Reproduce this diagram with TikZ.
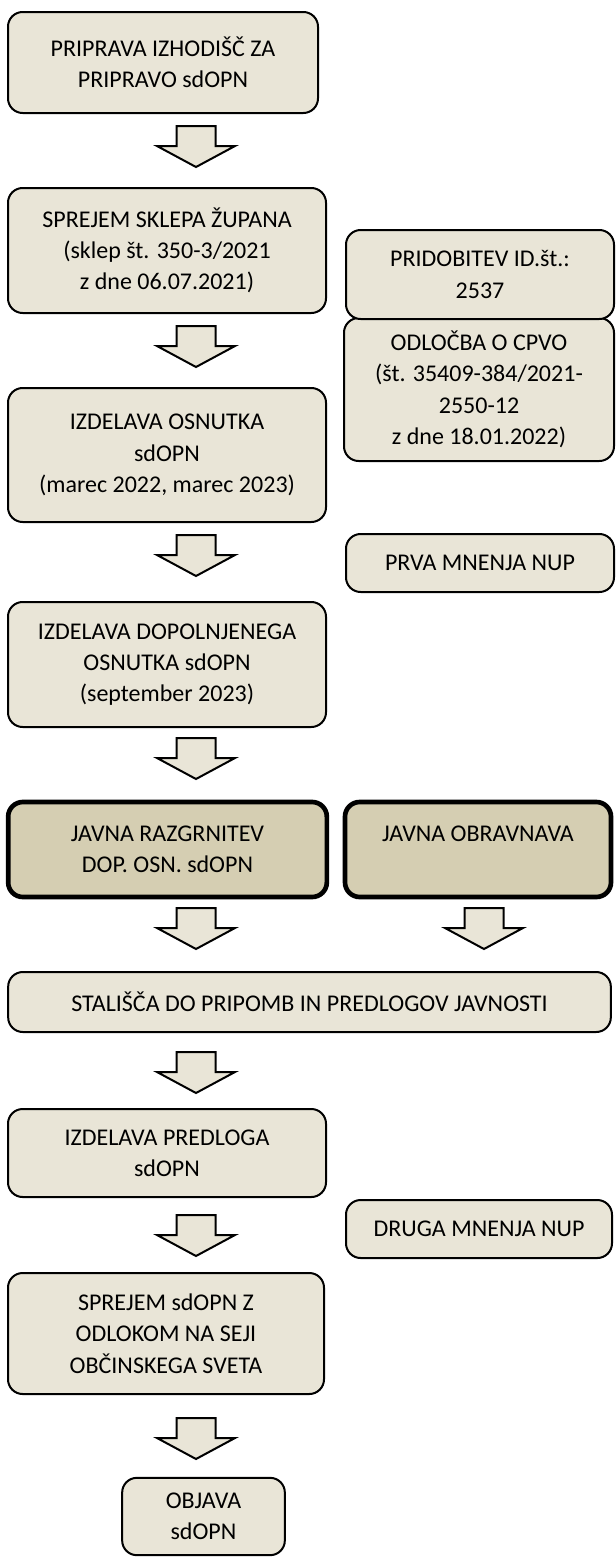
\documentclass[tikz,border=0pt]{standalone}
\usepackage{fontspec}
\setmainfont{Carlito}

\definecolor{boxfill}{RGB}{233,229,215}
\definecolor{javnafill}{RGB}{213,206,178}

\tikzset{
  korak/.style={draw=black, line width=1.5pt, fill=boxfill, rounded corners=11pt,
    align=center, inner sep=0pt, font=\fontsize{18}{23.5}\selectfont},
  javno/.style={korak, fill=javnafill, line width=3.5pt},
  puscica/.style={draw=black, line width=1.5pt, fill=boxfill, line join=miter},
}

% block arrow, top of the shaft at #1
\newcommand{\blokpuscica}[1]{%
  \draw [puscica, shift={#1}] (-19.5,0) -- (19.5,0) -- (19.5,20) -- (39,20) -- (0,41) -- (-39,20) -- (-19.5,20) -- cycle ;}

\begin{document}
\begin{tikzpicture}[x=0.75pt,y=0.75pt,yscale=-1,xscale=1]
\useasboundingbox (0,0) rectangle (616,1560);

%Shape: Rounded Rect [id:b1]
\node [korak, minimum width=232.5pt, minimum height=75.75pt] (izhodisca) at (163,62.5) {PRIPRAVA IZHODIŠČ ZA\\PRIPRAVO sdOPN};
%Block Arrow
\blokpuscica{(196,126)}
%Shape: Rounded Rect [id:b2]
\node [korak, minimum width=238.5pt, minimum height=93.75pt] (sklep) at (167,250.5) {SPREJEM SKLEPA ŽUPANA\\(sklep št. 350-3/2021\\z dne 06.07.2021)};
%Shape: Rounded Rect [id:b4]
\node [korak, minimum width=202.5pt, minimum height=107.25pt] (cpvo) at (479,389.5) {ODLOČBA O CPVO\\(št. 35409-384/2021-\\2550-12\\z dne 18.01.2022)};
%Shape: Rounded Rect [id:b3]
\node [korak, minimum width=201pt, minimum height=66.75pt] (idst) at (480,274.5) {PRIDOBITEV ID.št.:\\2537};
%Block Arrow
\blokpuscica{(196,326)}
%Shape: Rounded Rect [id:b5]
\node [korak, minimum width=238.5pt, minimum height=100.5pt] (osnutek) at (167,455) {IZDELAVA OSNUTKA\\sdOPN\\(marec 2022, marec 2023)};
%Block Arrow
\blokpuscica{(196,535)}
%Shape: Rounded Rect [id:b6]
\node [korak, minimum width=201pt, minimum height=43.5pt] (prvamnenja) at (480,563) {PRVA MNENJA NUP};
%Shape: Rounded Rect [id:b7]
\node [korak, minimum width=238.5pt, minimum height=93.75pt] (dopolnjeni) at (167,664.5) {IZDELAVA DOPOLNJENEGA\\OSNUTKA sdOPN\\(september 2023)};
%Block Arrow
\blokpuscica{(196,738)}
%Shape: Rounded Rect [id:b8]
\node [javno, minimum width=239pt, minimum height=71.25pt] (razgrnitev) at (167.5,849.5) {JAVNA RAZGRNITEV\\DOP. OSN. sdOPN};
%Shape: Rounded Rect [id:b9]
\node [javno, minimum width=199.5pt, minimum height=71.25pt] (obravnava) at (478,849.5) {JAVNA OBRAVNAVA\\~};
%Block Arrow
\blokpuscica{(196,908)}
\blokpuscica{(484,908)}
%Shape: Rounded Rect [id:b10]
\node [korak, minimum width=452pt, minimum height=45pt] (stalisca) at (309.5,1002) {STALIŠČA DO PRIPOMB IN PREDLOGOV JAVNOSTI};
%Block Arrow
\blokpuscica{(196,1052)}
%Shape: Rounded Rect [id:b11]
\node [korak, minimum width=238.5pt, minimum height=66pt] (predlog) at (167,1153) {IZDELAVA PREDLOGA\\sdOPN};
%Shape: Rounded Rect [id:b12]
\node [korak, minimum width=199.5pt, minimum height=43.5pt] (drugamnenja) at (479,1229) {DRUGA MNENJA NUP};
%Block Arrow
\blokpuscica{(196,1215)}
%Shape: Rounded Rect [id:b13]
\node [korak, minimum width=237pt, minimum height=90.75pt] (sprejem) at (166,1333.5) {SPREJEM sdOPN Z\\ODLOKOM NA SEJI\\OBČINSKEGA SVETA};
%Block Arrow
\blokpuscica{(196,1418)}
%Shape: Rounded Rect [id:b14]
\node [korak, minimum width=122pt, minimum height=58pt] (objava) at (203.5,1516.5) {OBJAVA\\sdOPN};

\end{tikzpicture}
\end{document}
